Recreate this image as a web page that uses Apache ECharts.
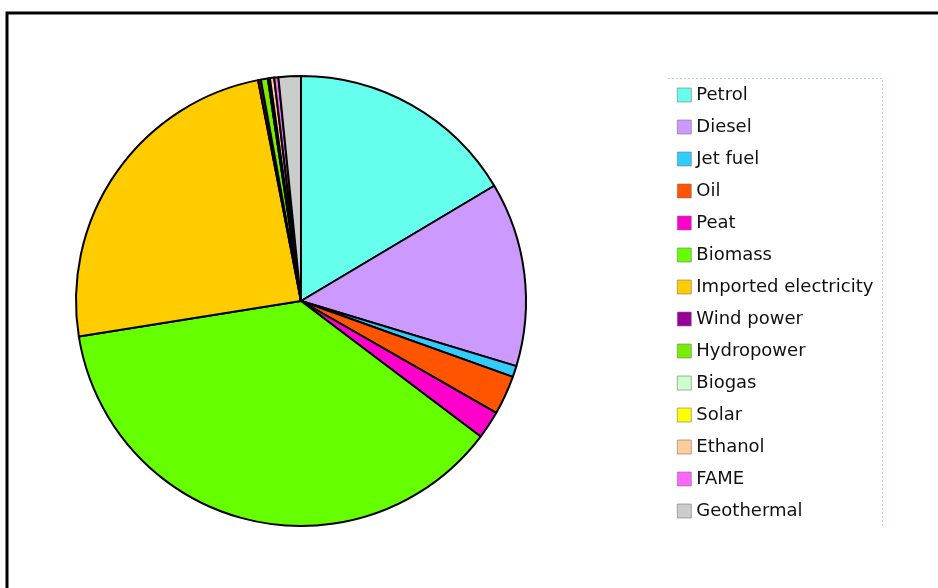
<!DOCTYPE html>
<html>
<head>
<meta charset="utf-8">
<script src="https://cdn.jsdelivr.net/npm/echarts@6/dist/echarts.min.js"></script>
<style>
  html, body { margin: 0; padding: 0; background: #fff; }
  #chart { width: 938px; height: 588px; }
</style>
</head>
<body>
<div id="chart"></div>
<script>
// categories and shares (percent), read clockwise from 12 o'clock
const categories = ['Petrol', 'Diesel', 'Jet fuel', 'Oil', 'Peat', 'Biomass',
  'Imported electricity', 'Wind power', 'Hydropower', 'Biogas', 'Solar',
  'Ethanol', 'FAME', 'Geothermal']
const shares = [16.4, 13.2, 0.8, 2.8, 2.0, 37.1, 24.4, 0.2, 0.5, 0.1, 0.05, 0.3, 0.3, 1.6]
const colors = ['#66ffee', '#cc99ff', '#33ccff', '#ff5500', '#ff00cc', '#66ff00',
  '#ffcc00', '#990099', '#77ee00', '#ccffcc', '#ffff00', '#ffcc99', '#ff66ff', '#cccccc']

const myChart = echarts.init(document.getElementById('chart'))

const option = {
  animation: false,
  legend: {
    orient: 'vertical',
    left: 677,
    top: 86,
    padding: 0,
    itemWidth: 14,
    itemHeight: 14,
    itemGap: 14,
    icon: 'rect',
    itemStyle: { borderColor: '#777', borderWidth: 0.6 },
    textStyle: {
      color: '#111',
      fontFamily: 'DejaVu Sans, sans-serif',
      fontSize: 18,
      lineHeight: 18
    },
    data: categories
  },
  graphic: [
    // outer frame (runs off the image on right and bottom)
    {
      type: 'polyline',
      shape: { points: [[7, 600], [7, 13], [950, 13]] },
      style: { stroke: '#000', lineWidth: 3, fill: null }
    },
    // legend box, only top and right edges are visible
    {
      type: 'polyline',
      shape: { points: [[668, 78.5], [882.5, 78.5], [882.5, 527]] },
      style: { stroke: '#9fdde0', lineWidth: 1, lineDash: [2, 2], fill: null }
    }
  ],
  series: [
    {
      type: 'pie',
      center: [301, 301],
      radius: 225,
      startAngle: 90,
      clockwise: true,
      avoidLabelOverlap: false,
      label: { show: false },
      labelLine: { show: false },
      emphasis: { disabled: true },
      itemStyle: { borderColor: '#000', borderWidth: 2 },
      data: categories.map((name, i) => ({
        name,
        value: shares[i],
        itemStyle: { color: colors[i] }
      }))
    }
  ]
}

myChart.setOption(option)
</script>
</body>
</html>
